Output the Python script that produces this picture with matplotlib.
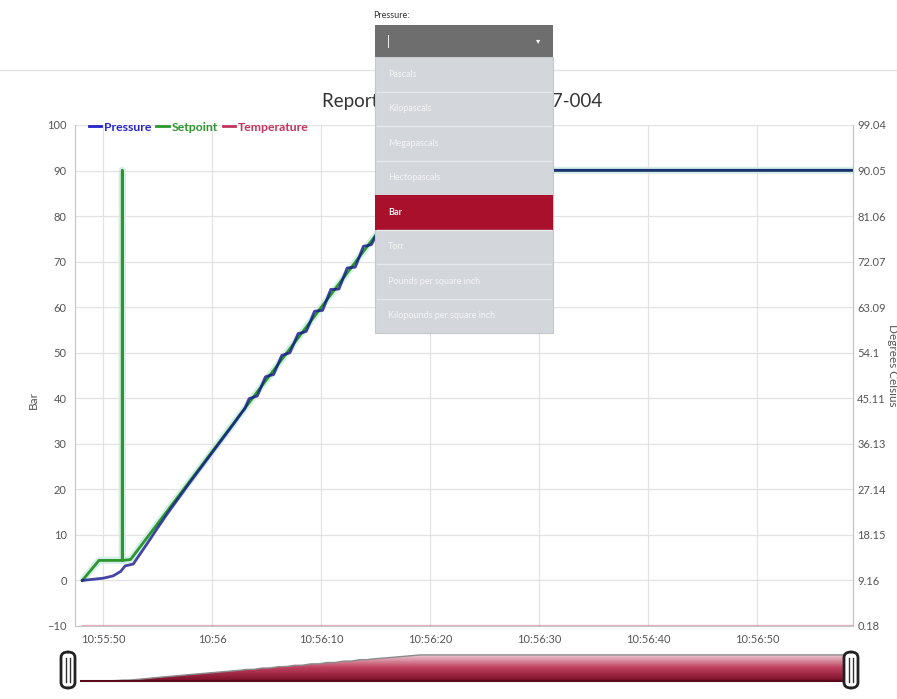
import matplotlib
matplotlib.use('Agg')
import matplotlib.pyplot as plt
import numpy as np
from matplotlib.patches import Rectangle, FancyBboxPatch
from matplotlib.lines import Line2D
from matplotlib.colors import LinearSegmentedColormap

plt.rcParams['font.family'] = ['Lato', 'DejaVu Sans']

# seconds after 10:55:00
p_time = [48.07, 50.0, 50.9, 51.6, 52.0, 52.75, 53, 54, 55, 56, 57, 58, 59, 60, 61, 62,
          62.5, 63.0, 63.375, 63.75, 64.125, 64.5, 64.875, 65.25, 65.625, 66.0, 66.375,
          66.75, 67.125, 67.5, 67.875, 68.25, 68.625, 69.0, 69.375, 69.75, 70.125, 70.5,
          70.875, 71.25, 71.625, 72.0, 72.375, 72.75, 73.125, 73.5, 73.875, 74.25,
          74.625, 75.0, 76, 77, 78, 79, 79.5, 80, 118.8]
pressure = [0.0, 0.5, 1.0, 2.0, 3.2, 3.6, 4.5, 8.0, 11.6, 15.1, 18.4, 21.7, 24.9, 28.1,
            31.3, 34.5, 36.2, 37.8, 39.9, 40.2, 40.5, 42.6, 44.7, 45.0, 45.2, 47.3, 49.4,
            49.7, 50.0, 52.1, 54.2, 54.4, 54.7, 56.8, 59.1, 59.2, 59.3, 61.6, 63.9, 63.9,
            64.0, 66.3, 68.6, 68.7, 68.8, 71.1, 73.4, 73.5, 73.8, 75.7, 78.9, 82.0, 85.2,
            88.4, 90.0, 90.05, 90.05]

s_time = [48.07, 49.6, 51.74, 51.74, 51.74, 52.5, 79.5, 118.8]
setpoint = [0.0, 4.4, 4.4, 90.0, 4.4, 4.6, 90.05, 90.05]

t_time = [48.07, 118.8]
temperature = [0.3, 0.3]

xticks = [50, 60, 70, 80, 90, 100, 110]
xlabels = ['10:55:50', '10:56', '10:56:10', '10:56:20', '10:56:30', '10:56:40', '10:56:50']
yticks = [-10, 0, 10, 20, 30, 40, 50, 60, 70, 80, 90, 100]
rticks = [0.18, 9.16, 18.15, 27.14, 36.13, 45.11, 54.1, 63.09, 72.07, 81.06, 90.05, 99.04]
units = ['Pascals', 'Kilopascals', 'Megapascals', 'Hectopascals', 'Bar', 'Torr',
         'Pounds per square inch', 'Kilopounds per square inch']

W, H = 897, 699
fig = plt.figure(figsize=(8.97, 6.99), dpi=100)

def fx(px):
    return px / W

def fy(py):
    return 1 - py / H

c_p, c_s, c_t = '#2525cc', '#2e962e', '#c2355c'
grey = '#555555'

ax = fig.add_axes([fx(75), fy(626), fx(853 - 75), (626 - 125) / H])
ax.set_xlim(47.4, 118.8)
ax.set_ylim(-10, 100)
ax.plot(s_time, setpoint, color='#d3f0e8', lw=5, solid_capstyle='butt', zorder=1)
ls, = ax.plot(s_time, setpoint, color=c_s, lw=2, zorder=2)
ax.plot(p_time, pressure, color='#16168e', lw=2, alpha=0.8, zorder=3)
lp = Line2D([], [], color=c_p, lw=2)
lt = Line2D([], [], color=c_t, lw=2)
ax.set_xticks(xticks)
ax.set_xticklabels(xlabels)
ax.set_yticks(yticks)
ax.grid(True, color='#e2e2e2', lw=0.9)
ax.tick_params(length=0, labelsize=8, labelcolor=grey, pad=6)
ax.spines['top'].set_visible(False)
for k in ['left', 'bottom', 'right']:
    ax.spines[k].set_color('#c4c4c4')

ax2 = ax.twinx()
ax2.set_ylim(0.18, 99.04)
ax2.set_yticks(rticks)
ax2.set_yticklabels([f'{v:g}' for v in rticks])
ax2.plot(t_time, temperature, color=c_t, lw=1, alpha=0.35)
ax2.tick_params(length=0, labelsize=8, labelcolor=grey, pad=3)
for k in ['top', 'left', 'bottom']:
    ax2.spines[k].set_visible(False)
ax2.spines['right'].set_color('#c4c4c4')

leg = ax.legend([lp, ls, lt], ['Pressure', 'Setpoint', 'Temperature'], ncol=3,
                loc='center left', bbox_to_anchor=(0.01, 0.996), frameon=False,
                handlelength=1.0, handletextpad=0.25, columnspacing=0.4,
                borderpad=0, prop={'size': 8.8, 'weight': 'bold'})
for txt, c in zip(leg.get_texts(), [c_p, c_s, c_t]):
    txt.set_color(c)

fig.text(fx(33), fy(400), 'Bar', rotation=90, ha='center', va='center',
         fontsize=8.5, color=grey)
fig.text(fx(892), fy(365), 'Degrees Celsius', rotation=270, ha='center', va='center',
         fontsize=8.5, color=grey)
fig.text(fx(462), fy(101), 'Report for Test Run PT-2017-004', ha='center',
         va='center', fontsize=13.5, color='#333333')

# separator line at top
fig.add_artist(Line2D([0, 1], [fy(70), fy(70)], color='#e4e4e4', lw=1))

# navigator
nav = fig.add_axes([fx(80), fy(684), fx(846 - 80), 32 / H])
nav.set_xlim(48.07, 118.8)
nav.set_ylim(-10, 100)
nav.axis('off')
poly = nav.fill_between(p_time, 0, pressure, color='none')
grad = np.linspace(0, 1, 64).reshape(-1, 1)
cmap = LinearSegmentedColormap.from_list('nav', ['#ecd0d7', '#c04060', '#7a0f28'])
im = nav.imshow(grad, aspect='auto', cmap=cmap, extent=[48.07, 118.8, 0, 92],
                origin='upper', zorder=1)
im.set_clip_path(poly.get_paths()[0], transform=nav.transData)
nav.plot(p_time, pressure, color='#8a8a8a', lw=1, zorder=2)
nav.plot(t_time, [0, 0], color='#5a0a1c', lw=1.5, zorder=2)
for hx in [68, 851]:
    fig.add_artist(FancyBboxPatch((fx(hx - 7), fy(688)), fx(14), 36 / H,
                                  boxstyle='round,pad=0,rounding_size=0.008',
                                  fc='white', ec='#222222', lw=2,
                                  transform=fig.transFigure, zorder=6))
    for dx in [-2, 2]:
        fig.add_artist(Line2D([fx(hx + dx)] * 2, [fy(682), fy(658)], color='#333333',
                              lw=1, zorder=7))

# unit dropdown overlay
fig.text(fx(373), fy(15), 'Pressure:', fontsize=6.5, color='#333333',
         ha='left', va='center')
fig.add_artist(Rectangle((fx(375), fy(57)), fx(178), 32 / H, fc='#6e6e6e', ec='none',
                         transform=fig.transFigure, zorder=5))
fig.text(fx(388), fy(41), '|', fontsize=9, color='white', ha='center', va='center',
         zorder=6)
fig.text(fx(538), fy(41), '\u25be', fontsize=6, color='white', ha='center',
         va='center', zorder=6)
fig.add_artist(Rectangle((fx(375), fy(333)), fx(178), (333 - 57) / H, fc='#d3d6db',
                         ec='#c4c7cc', lw=0.8, transform=fig.transFigure, zorder=5))
row_h = (333 - 57) / len(units)
for i, u in enumerate(units):
    top = 57 + i * row_h
    if u == 'Bar':
        fig.add_artist(Rectangle((fx(375), fy(top + row_h)), fx(178), row_h / H,
                                 fc='#a8102c', ec='none', transform=fig.transFigure,
                                 zorder=5.5))
    elif i > 0:
        fig.add_artist(Line2D([fx(377), fx(551)], [fy(top), fy(top)], color='#e6e8eb',
                              lw=1, zorder=5.5))
    fig.text(fx(388), fy(top + row_h / 2), u, fontsize=6.5, color='#f4f4f4',
             ha='left', va='center', fontweight='bold' if u == 'Bar' else 'normal',
             zorder=6)

fig.savefig('out.png', dpi=100)
